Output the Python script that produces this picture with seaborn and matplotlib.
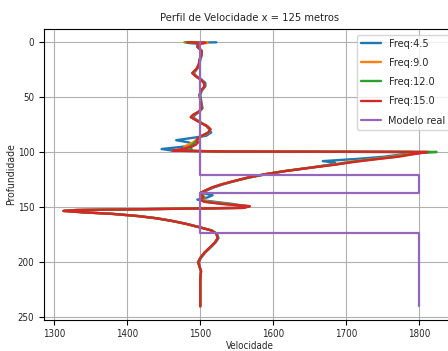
import matplotlib
matplotlib.use("Agg")
import matplotlib.pyplot as plt
from matplotlib import font_manager
import numpy as np
import pandas as pd
import seaborn as sns

# ---------------- data ----------------
depth = [0, 0.5, 1.5, 4, 8, 12, 16, 20, 24, 28,
         31, 34, 37, 40, 44, 48, 52, 56, 60, 63,
         66, 68, 70, 73, 76, 79, 82, 85, 87, 89,
         91, 93, 95, 97, 98.5, 99.3, 99.7, 100.5, 102, 104,
         106, 108, 109.5, 111, 114, 117, 120, 123, 126, 129,
         132, 135, 137, 139, 141, 143, 145, 147, 149, 150.5,
         151.5, 152.5, 153.3, 154.5, 156, 158, 160, 162.5, 165, 168,
         171, 174, 178, 182, 186, 191, 196, 200, 204, 208,
         215, 225, 240]

freq_4_5 = [1522, 1482, 1499, 1497, 1502, 1502, 1500, 1499, 1496, 1491,
            1495, 1502, 1507, 1507, 1502, 1500, 1501, 1502, 1503, 1499,
            1493, 1490, 1494, 1501, 1508, 1512, 1515, 1508, 1488, 1467,
            1484, 1492, 1475, 1447, 1462, 1540, 1790, 1795, 1775, 1752,
            1715, 1668, 1685, 1680, 1650, 1618, 1590, 1567, 1548, 1532,
            1518, 1508, 1502, 1517, 1510, 1496, 1520, 1545, 1563, 1555,
            1445, 1330, 1318, 1340, 1381, 1416, 1441, 1463, 1481, 1499,
            1516, 1523, 1525, 1521, 1515, 1507, 1501, 1498, 1499, 1501,
            1500, 1500, 1500]

freq_9_0 = [1478, 1510, 1498, 1496, 1502, 1501, 1499, 1498, 1495, 1490,
            1494, 1501, 1505, 1506, 1501, 1499, 1500, 1501, 1502, 1498,
            1491, 1488, 1493, 1500, 1509, 1513, 1512, 1503, 1498, 1494,
            1490, 1484, 1478, 1482, 1470, 1535, 1815, 1800, 1782, 1762,
            1738, 1712, 1696, 1684, 1650, 1616, 1588, 1565, 1547, 1530,
            1516, 1506, 1500, 1504, 1506, 1500, 1512, 1538, 1566, 1558,
            1448, 1328, 1314, 1339, 1380, 1415, 1440, 1462, 1480, 1498,
            1515, 1522, 1524, 1520, 1514, 1506, 1500, 1497, 1499, 1501,
            1500, 1500, 1500]

freq_12_0 = [1480, 1505, 1497, 1496, 1502, 1501, 1499, 1498, 1495, 1489,
             1494, 1501, 1505, 1506, 1501, 1499, 1500, 1501, 1502, 1498,
             1490, 1487, 1492, 1500, 1509, 1514, 1511, 1502, 1497, 1496,
             1493, 1489, 1486, 1488, 1478, 1532, 1824, 1802, 1786, 1768,
             1742, 1716, 1700, 1686, 1651, 1616, 1588, 1565, 1547, 1530,
             1516, 1506, 1500, 1503, 1505, 1500, 1508, 1534, 1567, 1559,
             1449, 1329, 1313, 1338, 1380, 1415, 1440, 1462, 1480, 1498,
             1515, 1522, 1524, 1520, 1514, 1506, 1500, 1497, 1499, 1501,
             1500, 1500, 1500]

freq_15_0 = [1483, 1507, 1497, 1496, 1502, 1501, 1499, 1498, 1495, 1489,
             1494, 1501, 1505, 1506, 1501, 1499, 1500, 1501, 1502, 1498,
             1490, 1487, 1492, 1500, 1509, 1514, 1511, 1502, 1497, 1495,
             1497, 1494, 1488, 1475, 1462, 1530, 1811, 1805, 1790, 1772,
             1745, 1720, 1703, 1688, 1652, 1617, 1588, 1565, 1547, 1530,
             1516, 1506, 1500, 1502, 1504, 1500, 1505, 1530, 1568, 1560,
             1450, 1330, 1312, 1338, 1380, 1415, 1440, 1462, 1480, 1498,
             1515, 1522, 1524, 1520, 1514, 1506, 1500, 1497, 1499, 1501,
             1500, 1500, 1500]

modelo_vel = [1500, 1500, 1800, 1800, 1500, 1500, 1800, 1800]
modelo_prof = [0, 121, 121, 137, 137, 173, 173, 240]

labels = ["Freq:4.5", "Freq:9.0", "Freq:12.0", "Freq:15.0", "Modelo real"]
series = [freq_4_5, freq_9_0, freq_12_0, freq_15_0]

# ---------------- style ----------------
sns.set_style("ticks")
plt.rcParams["font.family"] = ["DejaVu Sans"]
has_cond = any(f.name == "DejaVu Sans" and str(f.stretch) in ("condensed", "semi-condensed")
               for f in font_manager.fontManager.ttflist)
if has_cond:
    plt.rcParams["font.stretch"] = "condensed"

colors = sns.color_palette("tab10", 5)

fig = plt.figure(figsize=(4.48, 3.51), dpi=100)
ax = fig.add_axes([43.5 / 448, 0.0897, 412 / 448, 0.8274])

for vals, lab, col in zip(series, labels[:4], colors[:4]):
    df = pd.DataFrame({"Velocidade": vals, "Profundidade": depth})
    sns.lineplot(data=df, x="Velocidade", y="Profundidade", sort=False,
                 estimator=None, color=col, lw=1.7, label=lab, ax=ax, legend=False)

dfm = pd.DataFrame({"Velocidade": modelo_vel, "Profundidade": modelo_prof})
sns.lineplot(data=dfm, x="Velocidade", y="Profundidade", sort=False,
             estimator=None, color=colors[4], lw=1.6, label=labels[4], ax=ax, legend=False)

ax.set_xlim(1285, 1850)
ax.set_ylim(252, -12)
ax.set_xticks([1300, 1400, 1500, 1600, 1700, 1800])
ax.set_yticks([0, 50, 100, 150, 200, 250])
ax.grid(True, color="#b0b0b0", lw=0.8)
for s in ax.spines.values():
    s.set_color("black")
    s.set_linewidth(0.8)
ax.tick_params(labelsize=7, length=3.5, width=0.8, color="black", pad=3)
ax.set_xlabel("Velocidade", fontsize=7, labelpad=1.5)
ax.set_ylabel("Profundidade", fontsize=7.5, labelpad=1.5)
ax.set_title("Perfil de Velocidade x = 125 metros", fontsize=8, pad=6)
ax.legend(loc="upper right", fontsize=7.8, handlelength=1.8, labelspacing=0.85,
          handletextpad=0.7, framealpha=0.8)

fig.savefig("out.png", dpi=100)
